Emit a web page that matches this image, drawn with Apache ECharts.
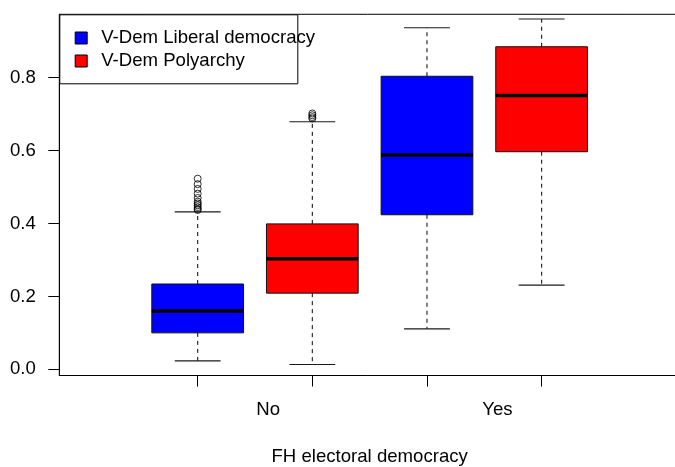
<!DOCTYPE html>
<html><head><meta charset="utf-8">
<script src="https://cdn.jsdelivr.net/npm/echarts@6/dist/echarts.min.js"></script>
<style>html,body{margin:0;padding:0;background:#fff}#c{width:675px;height:467px}</style>
</head><body><div id="c"></div>
<script>
const categories = ['No', 'Yes'];
const seriesNames = ['V-Dem Liberal democracy', 'V-Dem Polyarchy'];
const seriesColors = ['#0000ff', '#ff0000'];
// per category: [lower whisker, Q1, median, Q3, upper whisker]
const liberalStats = [
  [0.023, 0.100, 0.160, 0.234, 0.432],
  [0.111, 0.424, 0.588, 0.804, 0.937]
];
const polyarchyStats = [
  [0.013, 0.209, 0.303, 0.399, 0.679],
  [0.231, 0.597, 0.751, 0.885, 0.961]
];
const liberalOutliers = [
  [0.437, 0.440, 0.445, 0.450, 0.455, 0.460, 0.470, 0.482, 0.495, 0.508, 0.523],
  []
];
const polyarchyOutliers = [
  [0.688, 0.692, 0.697, 0.702],
  []
];
const yTicks = [0, 0.2, 0.4, 0.6, 0.8];

const FONT = '"Liberation Sans", Arial, sans-serif';
const FS = 18.6;
const BOX_HALF = 0.4, CAP_HALF = 0.2;
const groups = [liberalStats, polyarchyStats];
const outs = [liberalOutliers, polyarchyOutliers];
const boxPos = (g, i) => 1 + g + 2 * i;
const tickPos = [];
categories.forEach((c, i) => groups.forEach((_, g) => tickPos.push(boxPos(g, i))));
const labelPos = categories.map((c, i) => 1.5 + 2 * i + 0.115);

function renderBox(params, api) {
  const pos = api.value(0);
  const lo = api.value(1), q1 = api.value(2), med = api.value(3), q3 = api.value(4), hi = api.value(5);
  const xl = api.coord([pos - BOX_HALF, 0])[0];
  const xr = api.coord([pos + BOX_HALF, 0])[0];
  const cx = api.coord([pos, 0])[0];
  const capL = api.coord([pos - CAP_HALF, 0])[0];
  const capR = api.coord([pos + CAP_HALF, 0])[0];
  const y = v => api.coord([pos, v])[1];
  const yLo = y(lo), yQ1 = y(q1), yMed = y(med), yQ3 = y(q3), yHi = y(hi);
  const color = api.visual('color');
  const dash = { stroke: '#1a1a1a', lineWidth: 1.1, lineDash: [4, 4] };
  const solid = { stroke: '#1a1a1a', lineWidth: 1.1 };
  return {
    type: 'group',
    children: [
      { type: 'line', shape: { x1: cx, y1: yQ3, x2: cx, y2: yHi }, style: dash },
      { type: 'line', shape: { x1: cx, y1: yQ1, x2: cx, y2: yLo }, style: dash },
      { type: 'line', shape: { x1: capL, y1: yHi, x2: capR, y2: yHi }, style: solid },
      { type: 'line', shape: { x1: capL, y1: yLo, x2: capR, y2: yLo }, style: solid },
      { type: 'rect', shape: { x: xl, y: yQ3, width: xr - xl, height: yQ1 - yQ3 },
        style: { fill: color, stroke: '#111', lineWidth: 1 } },
      { type: 'line', shape: { x1: xl, y1: yMed, x2: xr, y2: yMed }, style: { stroke: '#000', lineWidth: 3.5 } }
    ]
  };
}

const series = [];
groups.forEach((stats, g) => {
  series.push({
    name: seriesNames[g],
    type: 'custom',
    renderItem: renderBox,
    itemStyle: { color: seriesColors[g] },
    encode: { x: 0, y: [1, 2, 3, 4, 5] },
    data: stats.map((s, i) => [boxPos(g, i)].concat(s)),
    z: 2
  });
});
groups.forEach((stats, g) => {
  const pts = [];
  outs[g].forEach((vals, i) => vals.forEach(v => pts.push([boxPos(g, i), v])));
  series.push({
    name: seriesNames[g] + ' outliers',
    type: 'scatter',
    symbol: 'circle',
    symbolSize: 7,
    itemStyle: { color: 'rgba(255,255,255,0)', borderColor: '#000', borderWidth: 1 },
    data: pts,
    z: 3,
    silent: true
  });
});

const chart = echarts.init(document.getElementById('c'), null, { renderer: 'canvas' });
chart.setOption({
  animation: false,
  backgroundColor: '#fff',
  textStyle: { fontFamily: FONT },
  grid: { left: 59.3, top: 14.3, right: -5, bottom: 91.5, containLabel: false, outerBoundsMode: 'none',
          show: true, borderColor: '#000', borderWidth: 1, backgroundColor: 'transparent' },
  xAxis: {
    type: 'value', min: -0.207, max: 5.207,
    splitLine: { show: false },
    axisLine: { show: true, onZero: false, lineStyle: { color: '#000', width: 1 } },
    axisTick: { show: true, length: 11, lineStyle: { color: '#000' }, customValues: tickPos },
    axisLabel: {
      customValues: labelPos,
      formatter: v => { let k = 0, d = 1e9; labelPos.forEach((p, i) => { if (Math.abs(p - v) < d) { d = Math.abs(p - v); k = i; } }); return categories[k]; },
      margin: 25, fontSize: FS, color: '#000', fontFamily: FONT
    },
    name: 'FH electoral democracy', nameLocation: 'middle', nameGap: 71.5,
    nameTextStyle: { fontSize: FS, color: '#000', fontFamily: FONT }
  },
  yAxis: {
    type: 'value', min: -0.017, max: 0.974,
    splitLine: { show: false },
    axisLine: { show: true, onZero: false, lineStyle: { color: '#000', width: 1 } },
    axisTick: { show: true, length: 11, lineStyle: { color: '#000' }, customValues: yTicks },
    axisLabel: { customValues: yTicks, formatter: v => v.toFixed(1), margin: 23.5, fontSize: FS, color: '#000', fontFamily: FONT }
  },
  legend: {
    data: seriesNames,
    orient: 'vertical', left: 74.7, top: 28.5, padding: 0, itemGap: 4,
    itemWidth: 12, itemHeight: 12, icon: 'rect',
    itemStyle: { borderColor: '#000', borderWidth: 1 },
    textStyle: { fontSize: FS, color: '#000', fontFamily: FONT, padding: [0, 0, 0, 9] },
    selectedMode: false, z: 5
  },
  graphic: [{
    type: 'rect', left: 59.3, top: 14.3, z: 4,
    shape: { width: 238, height: 69 },
    style: { fill: '#fff', stroke: '#000', lineWidth: 1 }
  }],
  series: series
});
</script></body></html>
